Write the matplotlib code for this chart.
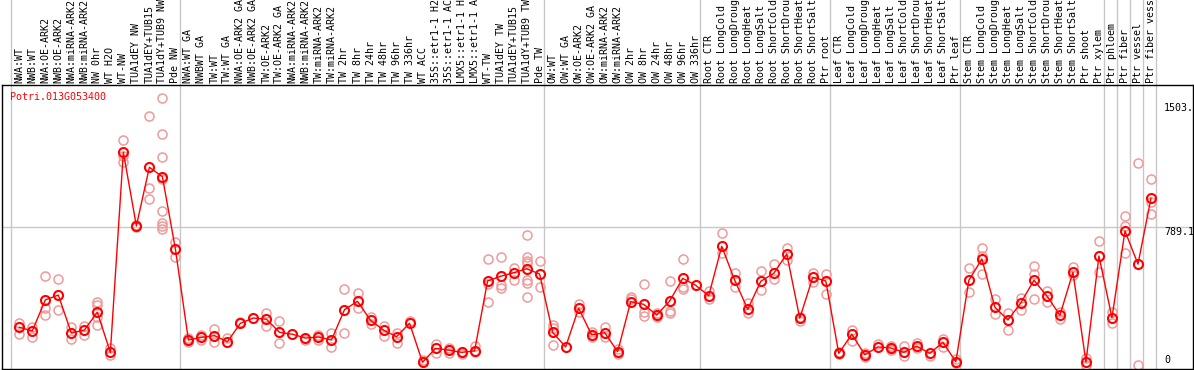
import matplotlib.pyplot as plt

labels = [
    'NWA:WT', 'NWB:WT', 'NWA:OE-ARK2', 'NWB:OE-ARK2', 'NWA:miRNA-ARK2', 'NWB:miRNA-ARK2',
    'NW 0hr', 'WT H2O', 'WT-NW', 'TUA1dEY NW', 'TUA1dEY+TUB15', 'TUA1dY+TUB9 NW', 'Pde NW',
    'NWA:WT GA', 'NWBWT GA', 'TW:WT', 'TW:WT GA', 'NWA:OE-ARK2 GA', 'NWB:OE-ARK2 GA',
    'TW:OE-ARK2', 'TW:OE-ARK2 GA', 'NWA:miRNA-ARK2', 'NWB:miRNA-ARK2', 'TW:miRNA-ARK2',
    'TW:miRNA-ARK2', 'TW 2hr', 'TW 8hr', 'TW 24hr', 'TW 48hr', 'TW 96hr', 'TW 336hr',
    'WT ACC', '35S::etr1-1 H2', '35S::etr1-1 AC', 'LMX5::etr1-1 H', 'LMX5::etr1-1 A',
    'WT-TW', 'TUA1dEY TW', 'TUA1dEY+TUB15', 'TUA1dY+TUB9 TW', 'Pde TW',
    'OW:WT', 'OW:WT GA', 'OW:OE-ARK2', 'OW:OE-ARK2 GA', 'OW:miRNA-ARK2', 'OW:miRNA-ARK2',
    'OW 2hr', 'OW 8hr', 'OW 24hr', 'OW 48hr', 'OW 96hr', 'OW 336hr',
    'Root CTR', 'Root LongCold', 'Root LongDroug', 'Root LongHeat', 'Root LongSalt',
    'Root ShortCold', 'Root ShortDrou', 'Root ShortHeat', 'Root ShortSalt', 'Ptr root',
    'Leaf CTR', 'Leaf LongCold', 'Leaf LongDroug', 'Leaf LongHeat', 'Leaf LongSalt',
    'Leaf ShortCold', 'Leaf ShortDrou', 'Leaf ShortHeat', 'Leaf ShortSalt', 'Ptr leaf',
    'Stem CTR', 'Stem LongCold', 'Stem LongDroug', 'Stem LongHeat', 'Stem LongSalt',
    'Stem ShortCold', 'Stem ShortDrou', 'Stem ShortHeat', 'Stem ShortSalt',
    'Ptr shoot', 'Ptr xylem', 'Ptr phloem', 'Ptr fiber', 'Ptr vessel', 'Ptr fiber vess',
]

means = [
    215, 194, 372, 400, 182, 199, 301, 71, 1220, 797, 1134, 1080, 665,
    142, 157, 167, 132, 238, 268, 261, 186, 175, 153, 159, 142, 316, 364, 255, 199, 161, 238,
    14, 94, 84, 71, 79, 481, 508, 528, 551, 521,
    186, 102, 324, 171, 184, 75, 362, 347, 285, 366, 496, 456,
    396, 680, 485, 318, 479, 525, 636, 267, 502, 481,
    65, 175, 57, 102, 96, 71, 106, 65, 129, 17,
    485, 607, 330, 257, 356, 485, 395, 284, 531, 16, 624, 270, 768, 578, 956,
]

# individual replicates per sample
reps = [
    [238, 175], [218, 161], [509, 324, 284], [491, 314], [218, 146], [224, 171],
    [362, 343, 272, 228], [94, 56], [1289, 1199, 1163], [790, 805], [1429, 1013, 952],
    [1530, 1325, 1191, 1065, 883, 816, 798, 781], [703, 620],
    [152, 129], [171, 142], [203, 132], [152], [247], [], [299, 224], [253, 123], [],
    [142], [171, 142], [184, 103], [433, 180], [410, 324], [276, 234], [222, 165],
    [184, 126], [253], [27], [119, 69], [94, 69], [71, 61], [107, 75],
    [609, 462, 358], [617, 456, 441], [555, 485], [743, 620, 597, 586, 487, 468, 391],
    [594, 448],
    [228, 209, 113], [], [349, 304], [190, 161], [218, 157], [88, 61], [387, 376],
    [464, 304, 280], [295, 276], [479, 308, 299], [605, 445, 437], [],
    [425, 376], [755, 640], [528, 448], [356, 295], [538, 427], [577, 494], [669, 601],
    [276, 253], [525, 475], [521, 404],
    [75, 60], [199, 138], [65, 43], [119], [107, 84], [107, 50], [126, 94], [50],
    [149, 103], [31, 8],
    [554, 419], [669, 624, 521], [376, 289], [295, 199], [385, 314], [567, 521, 376],
    [425, 358], [303, 261], [559, 515], [37, 0], [711, 534], [304, 241],
    [856, 797, 643], [1157, 0], [1065, 936, 864],
]

group_ends = [-1, 12, 40, 52, 62, 72, 83, 84, 85, 86, 87]

W, H = 1194, 370
mono = 'DejaVu Sans Mono'

fig = plt.figure(figsize=(W / 100, H / 100), dpi=100)
ax = fig.add_axes([1.5 / W, 1 / H, 1191.5 / W, 284 / H])
ax.set_xlim(-1.368, 90.23)
ax.set_ylim(-24.7, 1606.6)
ax.set_xticks([])
ax.set_yticks([])
for sp in ax.spines.values():
    sp.set_linewidth(1.0)
    sp.set_color('black')

# group separators run up through the label area
for b in group_ends:
    ax.axvline(b + 0.35, ymin=0, ymax=369 / 284, color='#c8c8c8', lw=1,
               clip_on=False, zorder=0)
ax.axhline(789.1, color='#c8c8c8', lw=1, zorder=0)

rx, ry = [], []
for i, r in enumerate(reps):
    rx += [i] * len(r)
    ry += r
ax.plot(rx, ry, ls='none', marker='o', ms=6.5, mfc='none', mec='#f09a9a', mew=1.1,
        zorder=2)
ax.plot(range(len(means)), means, color='red', lw=1, marker='o', ms=6.5, mfc='none',
        mec='red', mew=1.5, zorder=3)

for i, lab in enumerate(labels):
    ax.text(i, 1.007, lab, transform=ax.get_xaxis_transform(), rotation=90,
            ha='center', va='bottom', fontsize=7.2, family=mono)

ax.text(88, 1503, '1503.', ha='left', va='top', fontsize=7.2, family=mono)
ax.text(88, 789.1, '789.1', ha='left', va='top', fontsize=7.2, family=mono)
ax.text(88, 0, '0', ha='left', va='bottom', fontsize=7.2, family=mono)

fig.text(10 / W, 1 - 97 / H, 'Potri.013G053400', color='red', ha='left', va='center',
         fontsize=7.2, family=mono)

fig.savefig('out.png', dpi=100)
plt.close()
